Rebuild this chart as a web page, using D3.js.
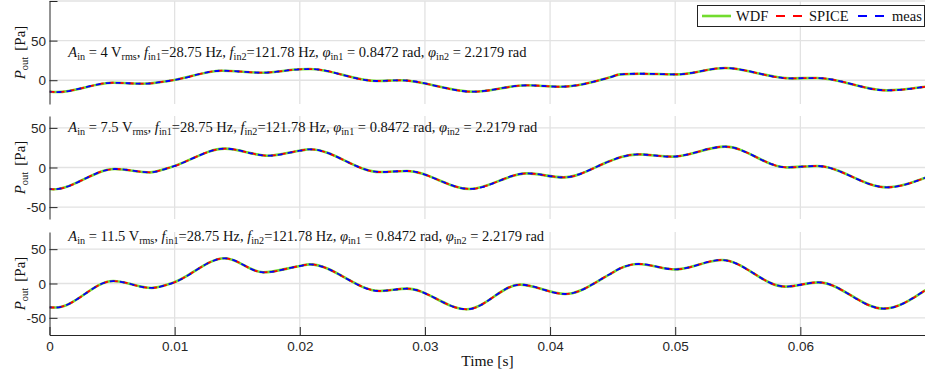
<!DOCTYPE html>
<html><head><meta charset="utf-8">
<script src="https://cdn.jsdelivr.net/npm/d3@7"></script>
<style>body{margin:0;background:#fff} svg{display:block}</style>
</head><body><svg id="c" width="925" height="377"></svg>
<script>
// ---------- data ----------
const xTicks = [0, 0.01, 0.02, 0.03, 0.04, 0.05, 0.06];
const xTickLabels = ["0", "0.01", "0.02", "0.03", "0.04", "0.05", "0.06"];
const yDomains = [[-30, 100], [-65, 65], [-75, 75]];
const yTicks = [[0, 50, 100], [-50, 0, 50], [-50, 0, 50]];
const yTickLabels = [["0", "50", ""], ["-50", "0", "50"], ["-50", "0", "50"]];
const amplitudes = ["4", "7.5", "11.5"];
const seriesNames = ["WDF", "SPICE", "meas"];

// panel 1 (A_in = 4 Vrms)
const p1Time = [0, 0.0006, 0.00507, 0.00747, 0.00987, 0.01376, 0.01706, 0.02, 0.02082, 0.02615, 0.02801, 0.03385, 0.03814, 0.04081, 0.0448, 0.0456, 0.04717, 0.05013, 0.05399, 0.05919, 0.06132, 0.06691, 0.07];
const p1Val  = [-14.5, -14.9, -3.2, -4.4, 0, 12.0, 9.5, 13.8, 14.1, -1.0, -0.1, -14.5, -6.4, -8.2, 3.7, 7.4, 8.2, 7.4, 15.4, 2.4, 2.8, -12.8, -8.2];
// panel 2 (A_in = 7.5 Vrms)
const p2Time = [0, 0.0003, 0.00523, 0.00803, 0.00962, 0.01402, 0.01748, 0.02, 0.0208, 0.0264, 0.02855, 0.0336, 0.03814, 0.04106, 0.0448, 0.0456, 0.04706, 0.04973, 0.05399, 0.05892, 0.06132, 0.06691, 0.07];
const p2Val  = [-27.1, -27.5, -1.9, -6.1, 0, 23.8, 14.9, 21.2, 23.0, -5.7, -4.4, -27.1, -7.4, -12.4, 8.2, 12.9, 16.6, 13.7, 26.3, 0.2, 1.9, -25.0, -12.9];
// panel 3 (A_in = 11.5 Vrms)
const p3Time = [0, 0.0005, 0.00509, 0.00816, 0.00976, 0.01402, 0.01708, 0.02, 0.0208, 0.02641, 0.02855, 0.03334, 0.0376, 0.0412, 0.0448, 0.0456, 0.04706, 0.05, 0.05373, 0.05879, 0.06145, 0.06665, 0.07];
const p3Val  = [-34.7, -35.0, 3.6, -6.5, 0.3, 36.7, 16.3, 25.5, 27.9, -10.9, -7.5, -37.6, -1.7, -15.3, 13.8, 22.0, 28.4, 20.6, 34.2, -4.6, 1.7, -36.6, -9.5];

const panelTimes = [p1Time, p2Time, p3Time];
const panelVals = [p1Val, p2Val, p3Val];
const annotY = [29, 44.5, 62];   // data-y of annotation baseline
const annotX = 0.0015;

// ---------- layout / style ----------
const W = 925, H = 377;
const left = 49.5, right = 925.5;
const tops = [1, 116, 232], ph = 103;
const colors = ["#72dc2e", "#ff0000", "#0000ff"];
const widths = [2.6, 1.8, 1.8];
const dashes = [null, "5,5", "5,5"];
const dashOff = [0, 0, 3];
const serif = "'Liberation Serif', 'Times New Roman', serif";
const sans = "'Liberation Sans', Arial, Helvetica, sans-serif";
const axisColor = "#262626";
const gridColor = "#e2e2e2";

const svg = d3.select("#c");
svg.append("rect").attr("width", W).attr("height", H).attr("fill", "#fff");

const x = d3.scaleLinear().domain([0, 0.07]).range([left, right]);

function richText(g, xPos, yPos, parts, size) {
  const t = g.append("text").attr("x", xPos).attr("y", yPos)
    .attr("font-family", serif).attr("font-size", size).attr("fill", "#111");
  let shifted = 0;
  parts.forEach(p => {
    const ts = t.append("tspan").text(p.t);
    if (p.i) ts.attr("font-style", "italic");
    if (p.sub) {
      ts.attr("font-size", size * 0.7).attr("dy", 3 - shifted);
      shifted = 3;
    } else if (shifted) {
      ts.attr("dy", -shifted);
      shifted = 0;
    }
  });
  return t;
}

for (let k = 0; k < 3; k++) {
  const top = tops[k], bot = top + ph;
  const y = d3.scaleLinear().domain(yDomains[k]).range([bot, top]);
  const g = svg.append("g");

  // grid
  g.selectAll(".gx").data(xTicks.slice(1)).enter().append("line")
    .attr("x1", d => x(d)).attr("x2", d => x(d)).attr("y1", top).attr("y2", bot)
    .attr("stroke", gridColor).attr("stroke-width", 1.3);
  g.selectAll(".gy").data(yTicks[k]).enter().append("line")
    .attr("x1", left).attr("x2", right).attr("y1", d => y(d)).attr("y2", d => y(d))
    .attr("stroke", gridColor).attr("stroke-width", 1.3);

  // series
  const pts = panelTimes[k].map((t, i) => [t, panelVals[k][i]]);
  const line = d3.line().x(d => x(d[0])).y(d => y(d[1])).curve(d3.curveMonotoneX);
  const clipId = "clip" + k;
  svg.append("clipPath").attr("id", clipId).append("rect")
    .attr("x", left).attr("y", top).attr("width", right - left).attr("height", ph);
  seriesNames.forEach((s, si) => {
    const p = g.append("path").datum(pts).attr("d", line)
      .attr("fill", "none").attr("stroke", colors[si]).attr("stroke-width", widths[si])
      .attr("clip-path", `url(#${clipId})`);
    if (dashes[si]) p.attr("stroke-dasharray", dashes[si]).attr("stroke-dashoffset", dashOff[si]);
  });

  // y axis
  const yAxis = d3.axisLeft(y).tickValues(yTicks[k])
    .tickFormat((d, i) => yTickLabels[k][i]).tickSizeInner(-8).tickSizeOuter(0);
  const ya = g.append("g").attr("transform", `translate(${left},0)`).call(yAxis);
  ya.select(".domain").attr("stroke", axisColor);
  ya.selectAll(".tick line").attr("stroke", axisColor);
  ya.selectAll(".tick text").attr("x", -3.5).attr("dy", "0.35em")
    .attr("font-family", sans).attr("font-size", 13.5).attr("fill", axisColor);

  // y label
  const yl = g.append("text").attr("transform", `translate(25,${(top + bot) / 2}) rotate(-90)`)
    .attr("text-anchor", "middle").attr("font-family", serif).attr("font-size", 15).attr("fill", "#111");
  yl.append("tspan").attr("font-style", "italic").text("P");
  yl.append("tspan").attr("font-size", 10.5).attr("dy", 3).text("out");
  yl.append("tspan").attr("dy", -3).text("\u2009\u2009[Pa]");

  // annotation
  richText(g, x(annotX), y(annotY[k]), [
    {t: "A", i: true}, {t: "in", sub: true}, {t: " = " + amplitudes[k] + " V"}, {t: "rms", sub: true},
    {t: ", "}, {t: "f", i: true}, {t: "in1", sub: true}, {t: "=28.75 Hz, "},
    {t: "f", i: true}, {t: "in2", sub: true}, {t: "=121.78 Hz, "},
    {t: "\u03C6", i: true}, {t: "in1", sub: true}, {t: " = 0.8472 rad, "},
    {t: "\u03C6", i: true}, {t: "in2", sub: true}, {t: " = 2.2179 rad"}
  ], 14.5);

  if (k === 2) {
    const xAxis = d3.axisBottom(x).tickValues(xTicks)
      .tickFormat((d, i) => xTickLabels[i]).tickSizeInner(-8).tickSizeOuter(0);
    const xa = g.append("g").attr("transform", `translate(0,${bot})`).call(xAxis);
    xa.select(".domain").attr("stroke", axisColor);
    xa.selectAll(".tick line").attr("stroke", axisColor);
    xa.selectAll(".tick text").attr("y", 11).attr("dy", "0.35em")
      .attr("font-family", sans).attr("font-size", 13.5).attr("fill", axisColor);
    g.append("text").attr("x", (left + right) / 2).attr("y", 366).attr("text-anchor", "middle")
      .attr("font-family", serif).attr("font-size", 15.5).attr("fill", "#111").text("Time [s]");
  }
}

// legend
const lg = svg.append("g");
lg.append("rect").attr("x", 697.5).attr("y", 5.5).attr("width", 227).attr("height", 21)
  .attr("fill", "#fff").attr("stroke", "#222").attr("stroke-width", 1);
const legX = [702, 776, 858];
const legTextX = [736, 809, 892];
seriesNames.forEach((s, i) => {
  const l = lg.append("line").attr("x1", legX[i]).attr("x2", legX[i] + (i === 0 ? 29 : 26))
    .attr("y1", 16).attr("y2", 16).attr("stroke", colors[i]).attr("stroke-width", widths[i]);
  if (i > 0) l.attr("stroke-dasharray", "9,8");
  lg.append("text").attr("x", legTextX[i]).attr("y", 20.5).attr("font-family", serif)
    .attr("font-size", 14.5).attr("fill", "#111").text(s);
});
</script>
</body></html>
